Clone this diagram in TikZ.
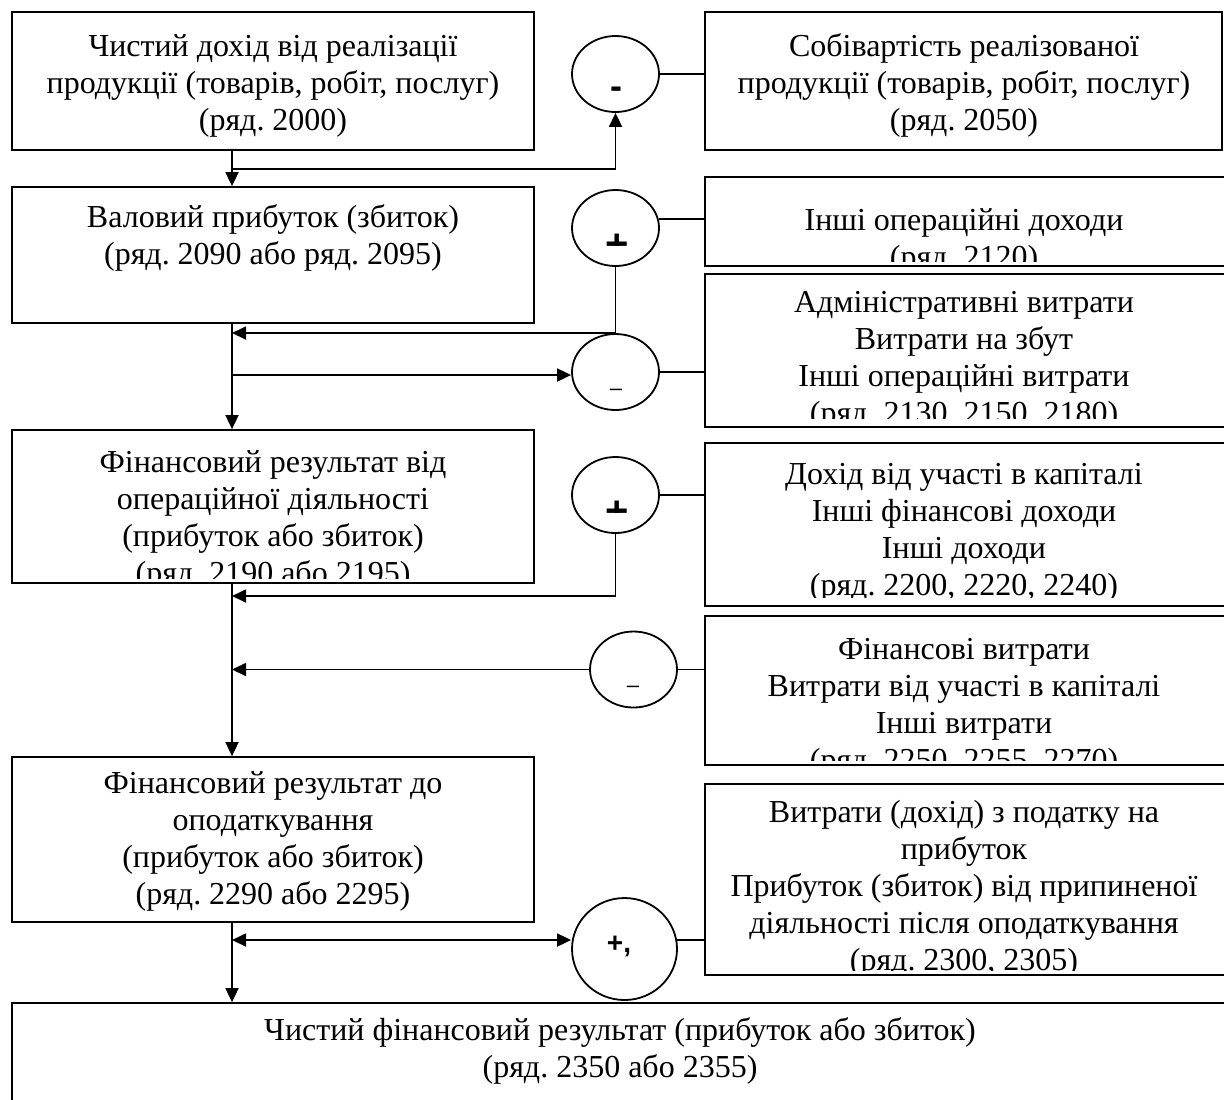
\documentclass[tikz,border=0pt]{standalone}
\usepackage{fontspec}
\setmainfont{Liberation Serif}
\newfontfamily\signfont{Liberation Sans}
\usetikzlibrary{arrows.meta,shapes.geometric,fit}
\frenchspacing
\begin{document}
\begin{tikzpicture}[x=0.5pt,y=-0.5pt,
 box/.style={draw, line width=0.9pt, inner sep=0pt, rectangle},
 oval/.style={draw, ellipse, line width=0.9pt, inner sep=0pt, minimum width=43.5pt, minimum height=38pt},
 txt/.style={align=center, inner sep=0pt, anchor=base, font=\fontsize{16}{18.5}\selectfont\frenchspacing},
 conn/.style={line width=0.9pt},
 arr/.style={conn, -{Triangle[length=7pt,width=6.5pt]}},
 arrboth/.style={conn, {Triangle[length=7pt,width=6.5pt]}-{Triangle[length=7pt,width=6.5pt]}},
 signb/.style={inner sep=0pt, anchor=base, font=\signfont\bfseries\fontsize{16}{16}\selectfont},
 signr/.style={inner sep=0pt, anchor=base, font=\signfont\fontsize{11}{11}\selectfont}
]
\useasboundingbox (0,0) rectangle (1224,1099);
\clip (0,0) rectangle (1224,1099);

% boxes
\node[box, fit={(12,12) (534,150)}] (A) {};
\node[box, fit={(705,12) (1222,150)}] (B) {};
\node[box, fit={(12,187) (534,323)}] (C) {};
\node[box, fit={(705,177) (1240,266)}] (D) {};
\node[box, fit={(705,274) (1240,427)}] (E) {};
\node[box, fit={(12,430) (534,583)}] (F) {};
\node[box, fit={(705,443) (1240,606)}] (G) {};
\node[box, fit={(705,616) (1240,765)}] (H) {};
\node[box, fit={(12,757) (534,922)}] (I) {};
\node[box, fit={(705,784) (1240,975)}] (J) {};
\node[box, fit={(12,1003) (1240,1120)}] (K) {};

% texts (anchor base = baseline of the last line)
\begin{scope}\clip (12,12) rectangle (534,145);
\node[txt] (At) at (273,130) {Чистий дохід від реалізації\\продукції (товарів, робіт, послуг)\\(ряд. 2000)};
\end{scope}
\begin{scope}\clip (705,12) rectangle (1222,145);
\node[txt] (Bt) at (964,130) {Собівартість реалізованої\\продукції (товарів, робіт, послуг)\\(ряд. 2050)};
\end{scope}
\begin{scope}\clip (12,187) rectangle (534,318);
\node[txt] (Ct) at (273,264) {Валовий прибуток (збиток)\\(ряд. 2090 або ряд. 2095)};
\end{scope}
\begin{scope}\clip (705,177) rectangle (1224,261);
\node[txt] (Dt) at (964,267) {Інші операційні доходи\\(ряд. 2120)};
\end{scope}
\begin{scope}\clip (705,274) rectangle (1224,418);
\node[txt] (Et) at (964,423) {Адміністративні витрати\\Витрати на збут\\Інші операційні витрати\\(ряд. 2130, 2150, 2180)};
\end{scope}
\begin{scope}\clip (12,430) rectangle (534,578);
\node[txt] (Ft) at (273,583) {Фінансовий результат від\\операційної діяльності\\(прибуток або збиток)\\(ряд. 2190 або 2195)};
\end{scope}
\begin{scope}\clip (705,443) rectangle (1224,597);
\node[txt] (Gt) at (964,595) {Дохід від участі в капіталі\\Інші фінансові доходи\\Інші доходи\\(ряд. 2200, 2220, 2240)};
\end{scope}
\begin{scope}\clip (705,616) rectangle (1224,760);
\node[txt] (Ht) at (964,770) {Фінансові витрати\\Витрати від участі в капіталі\\Інші витрати\\(ряд. 2250, 2255, 2270)};
\end{scope}
\begin{scope}\clip (12,757) rectangle (534,917);
\node[txt] (It) at (273,904) {Фінансовий результат до\\оподаткування\\(прибуток або збиток)\\(ряд. 2290 або 2295)};
\end{scope}
\begin{scope}\clip (705,784) rectangle (1224,970);
\node[txt] (Jt) at (964,970) {Витрати (дохід) з податку на\\прибуток\\Прибуток (збиток) від припиненої\\діяльності після оподаткування\\(ряд. 2300, 2305)};
\end{scope}
\node[txt] (Kt) at (620,1077) {Чистий фінансовий результат (прибуток або збиток)\\(ряд. 2350 або 2355)};

% ovals
\node[oval] (c1) at (615.5,74) {};
\node[oval] (c2) at (615.5,228) {};
\node[oval] (c3) at (615.5,372) {};
\node[oval] (c4) at (615.5,495) {};
\node[oval] (c5) at (633.5,669.5) {};
\node[oval, minimum width=52.5pt, minimum height=51pt] (c6) at (624.5,949) {};

% signs
\node[signb, font=\signfont\bfseries\fontsize{18}{18}\selectfont] (s1) at (616,98) {-};
\begin{scope}\clip (590,225) rectangle (645,245.5);
\node[signb, font=\signfont\bfseries\fontsize{20}{20}\selectfont] (s2) at (617,257) {+};
\end{scope}
\node[signr] (s3) at (616,395) {–};
\begin{scope}\clip (590,490) rectangle (645,512.5);
\node[signb, font=\signfont\bfseries\fontsize{20}{20}\selectfont] (s4) at (617.5,524) {+};
\end{scope}
\node[signr] (s5) at (633,692) {–};
\node[signb, font=\signfont\bfseries\fontsize{14}{14}\selectfont] (s6) at (619,952) {+,};

% main flow
\coordinate (m) at (232,0);
\draw[arr] (A.south -| m) -- (C.north -| m);
\draw[arr] (C.south -| m) -- (F.north -| m);
\draw[arr] (F.south -| m) -- (I.north -| m);
\draw[arr] (I.south -| m) -- (K.north -| m);

% branches
\coordinate (j1) at (233,169);
\draw[arr] (j1) -| (c1.south);
\draw[conn] (c1.east) -- (c1.east -| B.west);
\draw[conn] (c2.12) -- (c2.12 -| D.west);
\coordinate (j2) at (232,333);
\draw[arr] (c2.south) |- (j2);
\coordinate (j3) at (232,375);
\draw[arr] (j3) -- (j3 -| c3.west);
\draw[conn] (c3.east) -- (c3.east -| E.west);
\draw[conn] (c4.east) -- (c4.east -| G.west);
\coordinate (j4) at (232,596);
\draw[arr] (c4.south) |- (j4);
\draw[arr] (c5.west) -- (c5.west -| m);
\draw[conn] (c5.east) -- (c5.east -| H.west);
\coordinate (j6) at (232,940);
\draw[arrboth] (j6) -- (j6 -| c6.west);
\draw[conn] (c6.10) -- (c6.10 -| J.west);
\end{tikzpicture}
\end{document}
